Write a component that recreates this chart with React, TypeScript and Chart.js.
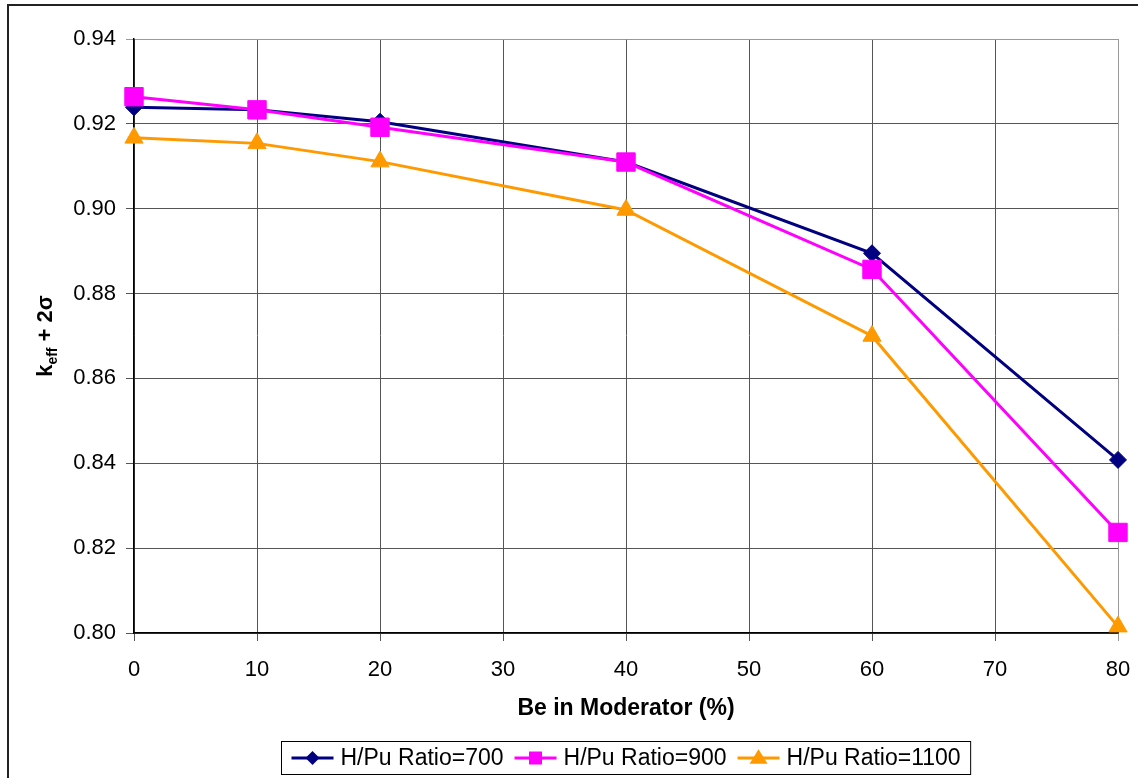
import React, { useEffect, useRef } from "react";
import { Chart, registerables } from "chart.js";

Chart.register(...registerables);

const xValues = [0, 10, 20, 40, 60, 80];
const ratio700 = [0.9239, 0.9233, 0.9205, 0.911, 0.8895, 0.8408];
const ratio900 = [0.9264, 0.9233, 0.9192, 0.911, 0.8857, 0.8237];
const ratio1100 = [0.9167, 0.9154, 0.9111, 0.8997, 0.87, 0.8015];
const seriesLabels = ["H/Pu Ratio=700", "H/Pu Ratio=900", "H/Pu Ratio=1100"];
const seriesColors = ["#000080", "#FF00FF", "#FF9900"];
const seriesMarkers = ["rectRot", "rect", "triangle"];
const xTitle = "Be in Moderator (%)";

const FONT = "'Liberation Sans', Arial, sans-serif";

function drawMarker(ctx: CanvasRenderingContext2D, kind: string, x: number, y: number, s: number, color: string) {
  ctx.save();
  ctx.fillStyle = color;
  ctx.beginPath();
  if (kind === "rectRot") {
    ctx.moveTo(x - s, y);
    ctx.lineTo(x, y - s);
    ctx.lineTo(x + s, y);
    ctx.lineTo(x, y + s);
  } else if (kind === "rect") {
    ctx.rect(x - s, y - s, 2 * s, 2 * s);
  } else {
    const h = s * 1.6;
    ctx.moveTo(x, y - h * 0.6);
    ctx.lineTo(x + s, y + h * 0.4);
    ctx.lineTo(x - s, y + h * 0.4);
  }
  ctx.closePath();
  ctx.fill();
  ctx.restore();
}

const extrasPlugin = {
  id: "extras",
  afterDraw(chart: any) {
    const ctx: CanvasRenderingContext2D = chart.ctx;
    ctx.save();
    // outer frame
    ctx.strokeStyle = "#222";
    ctx.lineWidth = 2;
    ctx.beginPath();
    ctx.moveTo(8, 1000);
    ctx.lineTo(8, 5);
    ctx.lineTo(1200, 5);
    ctx.stroke();

    // y axis title: k_eff + 2σ
    const ca = chart.chartArea;
    const cy = (ca.top + ca.bottom) / 2;
    ctx.save();
    ctx.translate(52, cy);
    ctx.rotate(-Math.PI / 2);
    ctx.fillStyle = "#000";
    ctx.textBaseline = "alphabetic";
    const big = `bold 22px ${FONT}`;
    const small = `bold 14px ${FONT}`;
    ctx.font = big;
    const w1 = ctx.measureText("k").width;
    const w3 = ctx.measureText(" + 2σ").width;
    ctx.font = small;
    const w2 = ctx.measureText("eff").width;
    let x0 = -(w1 + w2 + w3) / 2;
    ctx.font = big;
    ctx.fillText("k", x0, 0);
    x0 += w1;
    ctx.font = small;
    ctx.fillText("eff", x0, 5);
    x0 += w2;
    ctx.font = big;
    ctx.fillText(" + 2σ", x0, 0);
    ctx.restore();

    // legend
    ctx.font = `23px ${FONT}`;
    const sampleW = 42;
    const gapText = 7;
    const gapItem = 11;
    const padL = 10;
    const padR = 10;
    const widths = seriesLabels.map((t) => ctx.measureText(t).width);
    let total = padL + padR;
    widths.forEach((w, i) => {
      total += sampleW + gapText + w + (i < widths.length - 1 ? gapItem : 0);
    });
    const centerX = (ca.left + ca.right) / 2;
    const boxL = Math.round(centerX - total / 2) + 0.5;
    const boxT = 741.5;
    const boxH = 33;
    ctx.strokeStyle = "#000";
    ctx.lineWidth = 1;
    ctx.strokeRect(boxL, boxT, total, boxH);
    const my = boxT + boxH / 2;
    let xx = boxL + padL;
    seriesLabels.forEach((t, i) => {
      ctx.strokeStyle = seriesColors[i];
      ctx.lineWidth = 3;
      ctx.beginPath();
      ctx.moveTo(xx, my);
      ctx.lineTo(xx + sampleW, my);
      ctx.stroke();
      const ms = i === 0 ? 7 : i === 1 ? 6.5 : 9;
      drawMarker(ctx, seriesMarkers[i], xx + sampleW / 2, my, ms, seriesColors[i]);
      xx += sampleW + gapText;
      ctx.fillStyle = "#000";
      ctx.textBaseline = "middle";
      ctx.textAlign = "left";
      ctx.fillText(t, xx, my + 1);
      xx += widths[i] + gapItem;
    });
    ctx.restore();
  },
};

export default function App() {
  const canvasRef = useRef<HTMLCanvasElement | null>(null);

  useEffect(() => {
    const canvas = canvasRef.current;
    if (!canvas) return;
    const makeData = (arr: number[]) => xValues.map((x, i) => ({ x, y: arr[i] }));
    const all = [ratio700, ratio900, ratio1100];
    const radii = [8.5, 13, 10.5];
    const chart = new Chart(canvas, {
      type: "line",
      data: {
        datasets: all.map((arr, i) => ({
          label: seriesLabels[i],
          data: makeData(arr),
          borderColor: seriesColors[i],
          backgroundColor: seriesColors[i],
          borderWidth: 3,
          pointStyle: seriesMarkers[i] as any,
          pointRadius: radii[i],
          pointBorderWidth: 1,
          pointBorderColor: seriesColors[i],
          pointBackgroundColor: seriesColors[i],
          tension: 0,
          clip: false as any,
          order: 3 - i,
        })),
      },
      options: {
        animation: false,
        responsive: false,
        maintainAspectRatio: false,
        layout: { padding: { left: 34, right: 20, top: 39, bottom: 53 } },
        plugins: {
          legend: { display: false },
          tooltip: { enabled: false },
        },
        scales: {
          x: {
            type: "linear",
            min: 0,
            max: 80,
            ticks: {
              stepSize: 10,
              color: "#000",
              font: { family: FONT, size: 22 },
              padding: 16,
              maxRotation: 0,
            },
            grid: {
              color: (c: any) => (c.tick && c.tick.value === 80 ? "#999" : "#555"),
              tickLength: 8,
              lineWidth: 1,
            },
            border: { color: "#000", width: 1.5 },
            title: {
              display: true,
              text: xTitle,
              color: "#000",
              font: { family: FONT, size: 23, weight: "bold" },
              padding: { top: 4, bottom: 3 },
            },
            afterFit: (scale: any) => {
              scale.height = 92;
              scale.paddingLeft = 0;
              scale.paddingRight = 0;
            },
          },
          y: {
            type: "linear",
            min: 0.8,
            max: 0.94,
            ticks: {
              stepSize: 0.02,
              color: "#000",
              font: { family: FONT, size: 22 },
              padding: 10,
              callback: (v: any) => Number(v).toFixed(2),
            },
            grid: {
              color: (c: any) => (c.tick && Math.abs(c.tick.value - 0.94) < 1e-6 ? "#999" : "#555"),
              tickLength: 8,
              lineWidth: 1,
            },
            border: { color: "#000", width: 1.5 },
            afterFit: (scale: any) => {
              scale.width = 100;
              scale.paddingTop = 0;
              scale.paddingBottom = 0;
            },
          },
        },
      },
      plugins: [extrasPlugin],
    });
    return () => chart.destroy();
  }, []);

  return (
    <div style={{ position: "fixed", left: 0, top: 0, width: 1138, height: 778, background: "#fff" }}>
      <canvas ref={canvasRef} width={1138} height={778} style={{ width: 1138, height: 778, display: "block" }} />
    </div>
  );
}
